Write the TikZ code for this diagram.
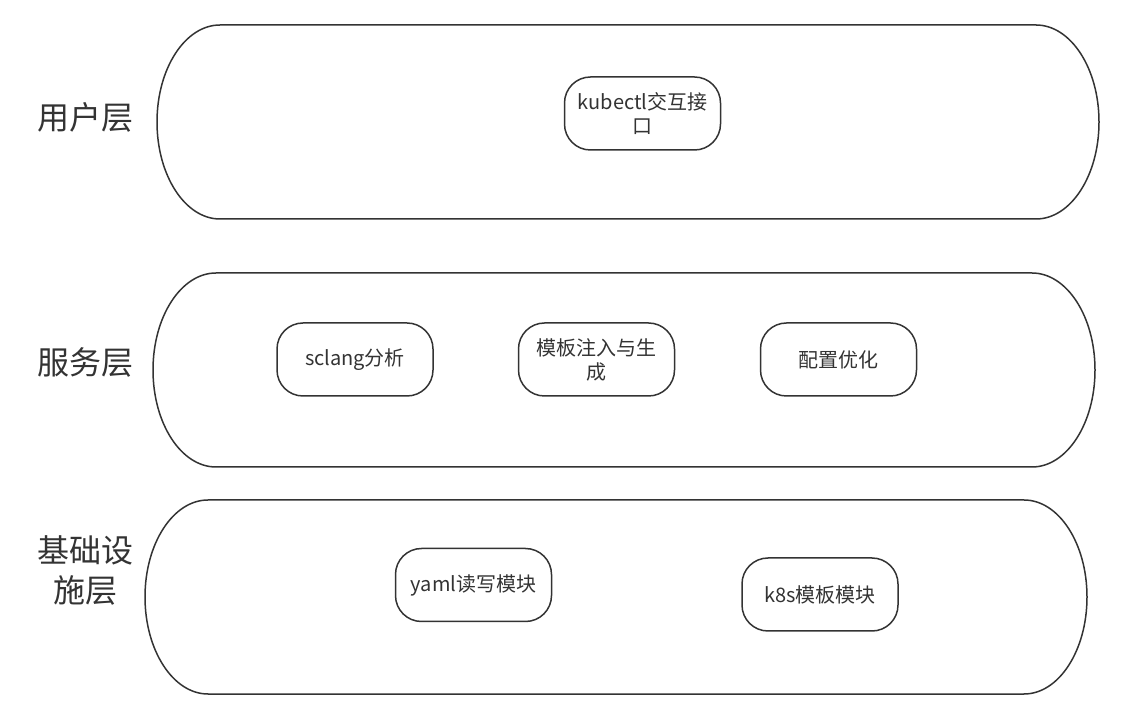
\documentclass[tikz,border=0pt]{standalone}
\usepackage{fontspec}
\setmainfont{Noto Sans CJK SC}
\definecolor{ink}{HTML}{333333}

\begin{document}
\begin{tikzpicture}[x=1pt,y=1pt,
  layer/.style={draw=ink,line width=1.5pt},
  module/.style={draw=ink,line width=1.5pt,rounded corners=26pt,minimum width=156pt,minimum height=73pt,
    align=center,text=ink,inner sep=2pt,font=\fontsize{20}{24}\selectfont},
  tier/.style={text=ink,align=center,font=\fontsize{32}{40}\selectfont}]
  \useasboundingbox (0,0) rectangle (1124,720);
  % three layers
  \foreach \xl/\yc in {157/598,153/350,145/123}
    \draw[layer] (\xl+63,\yc+97) -- (\xl+879,\yc+97)
      arc[start angle=90,end angle=-90,x radius=63,y radius=97] -- (\xl+63,\yc-97)
      arc[start angle=270,end angle=90,x radius=63,y radius=97] -- cycle;
  \node[tier] (user) at (85,603) {用户层};
  \node[tier] (service) at (85,358) {服务层};
  \node[tier] (infra) at (85,150) {基础设\\施层};
  % modules
  \node[module] (kubectl) at (642.5,606.5) {kubectl交互接\\口};
  \node[module] (sclang) at (355,360.5) {sclang分析};
  \node[module] (tmpl) at (596.5,360.5) {模板注入与生\\成};
  \node[module] (optim) at (838.5,360.5) {配置优化};
  \node[module] (yaml) at (473.5,135) {yaml读写模块};
  \node[module] (k8s) at (820,125.5) {k8s模板模块};
\end{tikzpicture}
\end{document}
